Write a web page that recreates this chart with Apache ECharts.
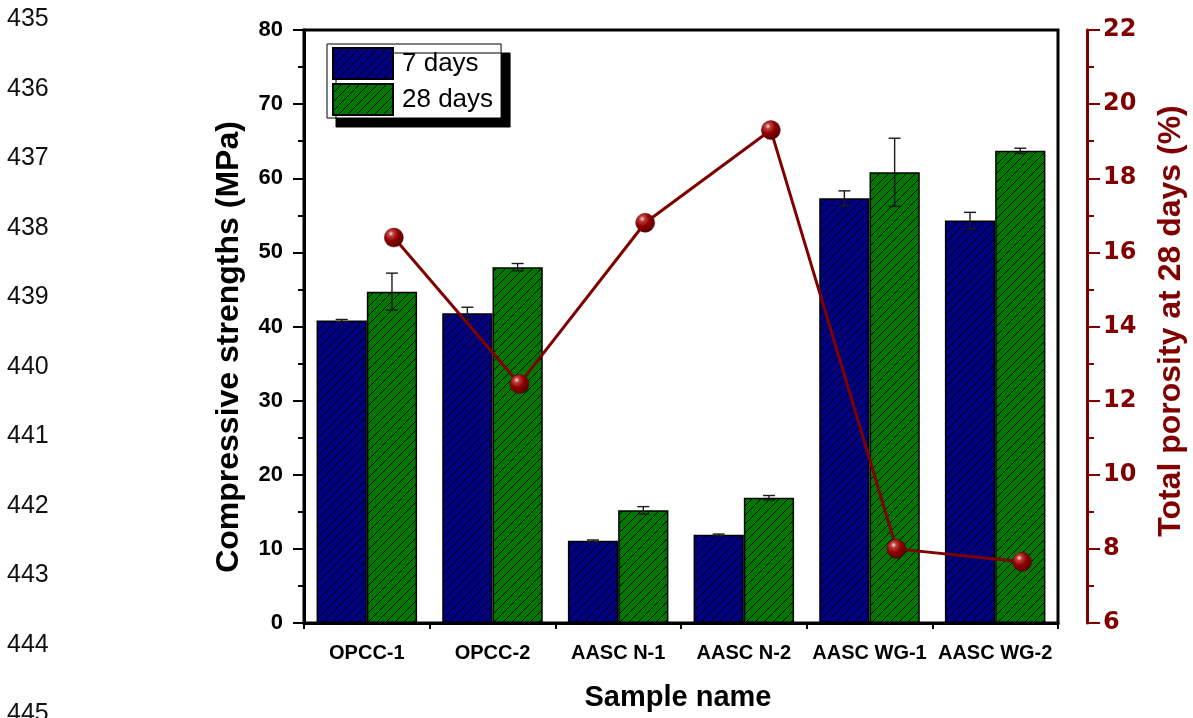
<!DOCTYPE html>
<html>
<head>
<meta charset="utf-8">
<script src="https://cdn.jsdelivr.net/npm/echarts@6/dist/echarts.min.js"></script>
<style>
html,body{margin:0;padding:0;background:#fff;}
#chart{width:1193px;height:718px;}
</style>
</head>
<body>
<div id="chart"></div>
<script>
// ---- data ----
const categories = ['OPCC-1', 'OPCC-2', 'AASC N-1', 'AASC N-2', 'AASC WG-1', 'AASC WG-2'];
const strength7 = [40.8, 41.8, 11.1, 11.9, 57.3, 54.3];
const strength7Err = [0.15, 0.8, 0.1, 0.1, 1.0, 1.1];
const strength28 = [44.7, 48.0, 15.2, 16.9, 60.8, 63.7];
const strength28Err = [2.5, 0.5, 0.5, 0.3, 4.6, 0.35];
const porosity28 = [16.4, 12.45, 16.8, 19.3, 8.0, 7.65];
const seriesNames = ['7 days', '28 days'];
const lineNumbers = ['435','436','437','438','439','440','441','442','443','444','445'];

// ---- styles ----
const FONT = '"Liberation Sans", Arial, sans-serif';
const WIDEFONT = '"DejaVu Sans", "Liberation Sans", sans-serif';
const DARKRED = '#800000';
function hatch(bg) {
  const s = 9;
  const c = document.createElement('canvas');
  c.width = s; c.height = s;
  const ctx = c.getContext('2d');
  ctx.fillStyle = bg; ctx.fillRect(0, 0, s, s);
  ctx.strokeStyle = '#000'; ctx.lineWidth = 1;
  ctx.beginPath();
  ctx.moveTo(-1, s + 1); ctx.lineTo(s + 1, -1);
  ctx.moveTo(-2, 2); ctx.lineTo(2, -2);
  ctx.moveTo(s - 2, s + 2); ctx.lineTo(s + 2, s - 2);
  ctx.stroke();
  return c;
}
const pat7 = { image: hatch('#000080'), repeat: 'repeat' };
const pat28 = { image: hatch('#007800'), repeat: 'repeat' };
const BAR_OFFSET = 0.2; // centre of each bar relative to category width

function errData(vals, errs) { return vals.map((v, i) => [i, v, errs[i]]); }
function errRender(dir) {
  return function (params, api) {
    const i = api.value(0), v = api.value(1), e = api.value(2);
    const w = api.size([1, 0])[0];
    const x = api.coord([i, v])[0] + dir * BAR_OFFSET * w;
    const yt = api.coord([i, v + e])[1];
    const yb = api.coord([i, v - e])[1];
    const cw = 6;
    const st = { stroke: '#1a1a1a', lineWidth: 1.4 };
    return {
      type: 'group',
      children: [
        { type: 'line', shape: { x1: x, y1: yt, x2: x, y2: yb }, style: st },
        { type: 'line', shape: { x1: x - cw, y1: yt, x2: x + cw, y2: yt }, style: st },
        { type: 'line', shape: { x1: x - cw, y1: yb, x2: x + cw, y2: yb }, style: st }
      ]
    };
  };
}

const graphics = lineNumbers.map((t, i) => ({
  type: 'text', left: 7, top: 18 + 69.5 * i - 11,
  style: { text: t, font: '25px ' + FONT, fill: '#111' }
}));
graphics.push(
  { type: 'text', x: 229, y: 347, rotation: Math.PI / 2,
    style: { text: 'Compressive strengths (MPa)', font: 'bold 32px ' + FONT, fill: '#000', align: 'center', verticalAlign: 'middle' } },
  { type: 'text', x: 1171, y: 321, rotation: Math.PI / 2,
    style: { text: 'Total porosity at 28 days (%)', font: 'bold 32px ' + FONT, fill: DARKRED, align: 'center', verticalAlign: 'middle' } },
  { type: 'text', x: 678, y: 698,
    style: { text: 'Sample name', font: 'bold 29px ' + FONT, fill: '#000', align: 'center', verticalAlign: 'middle' } }
);

const chart = echarts.init(document.getElementById('chart'), null, { renderer: 'canvas' });
chart.setOption({
  animation: false,
  backgroundColor: '#fff',
  textStyle: { fontFamily: FONT },
  grid: { left: 304, right: 135, top: 30, bottom: 95, show: true, borderColor: '#000', borderWidth: 3, backgroundColor: 'transparent' },
  legend: {
    data: seriesNames,
    left: 327, top: 44, orient: 'vertical',
    itemWidth: 60, itemHeight: 31, itemGap: 3,
    padding: [3, 8, 2, 5],
    backgroundColor: '#fff', borderColor: '#000', borderWidth: 1,
    shadowColor: '#000', shadowBlur: 0, shadowOffsetX: 9, shadowOffsetY: 9,
    icon: 'rect',
    textStyle: { fontSize: 26, color: '#000', fontFamily: FONT, padding: [0, 0, 0, 4] }
  },
  xAxis: [
    {
      type: 'category', data: categories, position: 'bottom',
      axisLine: { lineStyle: { color: '#000', width: 3 } },
      axisTick: { alignWithLabel: true, interval: 0, length: 12, lineStyle: { color: '#000', width: 2 } },
      axisLabel: { interval: 0, fontSize: 20, fontWeight: 'bold', color: '#000', margin: 20 },
      splitLine: { show: false }
    },
    {
      type: 'value', min: -0.5, max: 5.5, interval: 1, position: 'bottom',
      axisLine: { show: false, onZero: false },
      axisTick: { show: true, length: 6, lineStyle: { color: '#000', width: 2 } },
      axisLabel: { show: false },
      splitLine: { show: false }
    }
  ],
  yAxis: [
    {
      type: 'value', min: 0, max: 80, interval: 10, position: 'left',
      axisLine: { show: true, onZero: false, lineStyle: { color: '#000', width: 3 } },
      axisTick: { show: true, length: 11, lineStyle: { color: '#000', width: 2 } },
      minorTick: { show: true, splitNumber: 2, length: 6, lineStyle: { color: '#000', width: 2 } },
      axisLabel: { fontSize: 22, fontWeight: 'bold', color: '#000', margin: 21 },
      splitLine: { show: false }
    },
    {
      type: 'value', min: 6, max: 22, interval: 2, position: 'right', offset: 29,
      axisLine: { show: true, onZero: false, lineStyle: { color: DARKRED, width: 3 } },
      axisTick: { show: true, length: 13, lineStyle: { color: DARKRED, width: 2 } },
      minorTick: { show: true, splitNumber: 2, length: 7, lineStyle: { color: DARKRED, width: 2 } },
      axisLabel: { fontSize: 24, fontWeight: 'bold', fontFamily: WIDEFONT, color: DARKRED, margin: 16 },
      splitLine: { show: false }
    }
  ],
  series: [
    {
      name: seriesNames[0], type: 'bar', data: strength7, barGap: '0%', barCategoryGap: '20%',
      itemStyle: { color: pat7, borderColor: '#000', borderWidth: 1.5 }, z: 2
    },
    {
      name: seriesNames[1], type: 'bar', data: strength28, barGap: '0%', barCategoryGap: '20%',
      itemStyle: { color: pat28, borderColor: '#000', borderWidth: 1.5 }, z: 2
    },
    { type: 'custom', data: errData(strength7, strength7Err), renderItem: errRender(-1), z: 5, silent: true },
    { type: 'custom', data: errData(strength28, strength28Err), renderItem: errRender(1), z: 5, silent: true },
    {
      name: 'Porosity', type: 'line', xAxisIndex: 1, yAxisIndex: 1, z: 10,
      data: porosity28.map((p, i) => [i + 0.215, p]),
      lineStyle: { color: DARKRED, width: 3 },
      symbol: 'circle', symbolSize: 19,
      itemStyle: {
        color: { type: 'radial', x: 0.35, y: 0.3, r: 0.75,
          colorStops: [ { offset: 0, color: '#f4e0e0' }, { offset: 0.18, color: '#c04040' }, { offset: 0.5, color: '#8f0000' }, { offset: 1, color: '#500000' } ] },
        borderColor: '#600000', borderWidth: 0.5
      }
    }
  ],
  graphic: graphics
});
</script>
</body>
</html>
